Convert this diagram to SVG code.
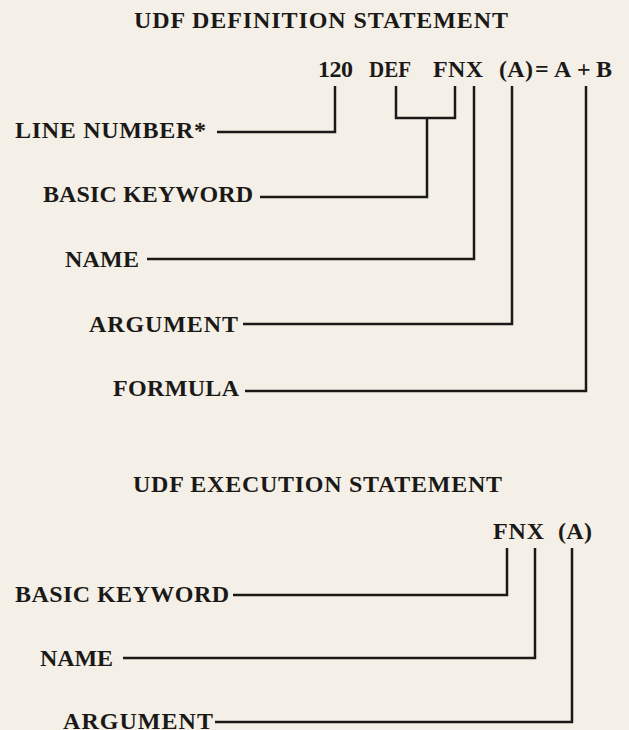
<svg xmlns="http://www.w3.org/2000/svg" width="629" height="730" viewBox="0 0 629 730">
<style>
  text { font-family: "Liberation Serif", "Times New Roman", serif; font-weight: bold; fill: #1b1918; font-size: 24px; }
  .conn { fill: none; stroke: #1b1918; stroke-width: 2.5; stroke-linejoin: miter; stroke-linecap: butt; }
</style>
<rect x="0" y="0" width="629" height="730" fill="#f4f0e7"/>

<g id="title-definition">
  <text x="134" y="28" textLength="374" lengthAdjust="spacing">UDF DEFINITION STATEMENT</text>
</g>

<g id="statement-definition">
  <text x="318" y="77" textLength="35" lengthAdjust="spacing">120</text>
  <text x="369" y="77" textLength="42" lengthAdjust="spacingAndGlyphs">DEF</text>
  <text x="433" y="77" textLength="50" lengthAdjust="spacing">FNX</text>
  <text x="499" y="77" textLength="34" lengthAdjust="spacing">(A)</text>
  <text x="535" y="77">=</text>
  <text x="554" y="77">A</text>
  <text x="577" y="77">+</text>
  <text x="596" y="77">B</text>
</g>

<g id="label-line-number">
  <text x="15" y="138" textLength="191" lengthAdjust="spacing">LINE NUMBER*</text>
</g>
<g id="label-basic-keyword-1">
  <text x="43" y="202" textLength="210" lengthAdjust="spacing">BASIC KEYWORD</text>
</g>
<g id="label-name-1">
  <text x="65" y="267" textLength="74" lengthAdjust="spacing">NAME</text>
</g>
<g id="label-argument-1">
  <text x="89" y="332" textLength="149" lengthAdjust="spacing">ARGUMENT</text>
</g>
<g id="label-formula">
  <text x="113" y="396" textLength="126" lengthAdjust="spacing">FORMULA</text>
</g>

<g id="title-execution">
  <text x="133" y="492" textLength="369" lengthAdjust="spacing">UDF EXECUTION STATEMENT</text>
</g>

<g id="statement-execution">
  <text x="493" y="539" textLength="51" lengthAdjust="spacing">FNX</text>
  <text x="558" y="539" textLength="34" lengthAdjust="spacing">(A)</text>
</g>

<g id="label-basic-keyword-2">
  <text x="15" y="602" textLength="214" lengthAdjust="spacing">BASIC KEYWORD</text>
</g>
<g id="label-name-2">
  <text x="40" y="666" textLength="73" lengthAdjust="spacing">NAME</text>
</g>
<g id="label-argument-2">
  <text x="63" y="729" textLength="150" lengthAdjust="spacing">ARGUMENT</text>
</g>

<g id="connectors">
  <path class="conn" d="M335 86 V132 H217"/>
  <path class="conn" d="M396 86 V118 H455 V86"/>
  <path class="conn" d="M427 118 V197 H260"/>
  <path class="conn" d="M474 86 V259 H147"/>
  <path class="conn" d="M512 86 V324 H243"/>
  <path class="conn" d="M586 86 V391 H245"/>
  <path class="conn" d="M507 548 V595 H233"/>
  <path class="conn" d="M535 548 V658 H123"/>
  <path class="conn" d="M572 548 V722 H215"/>
</g>
</svg>
